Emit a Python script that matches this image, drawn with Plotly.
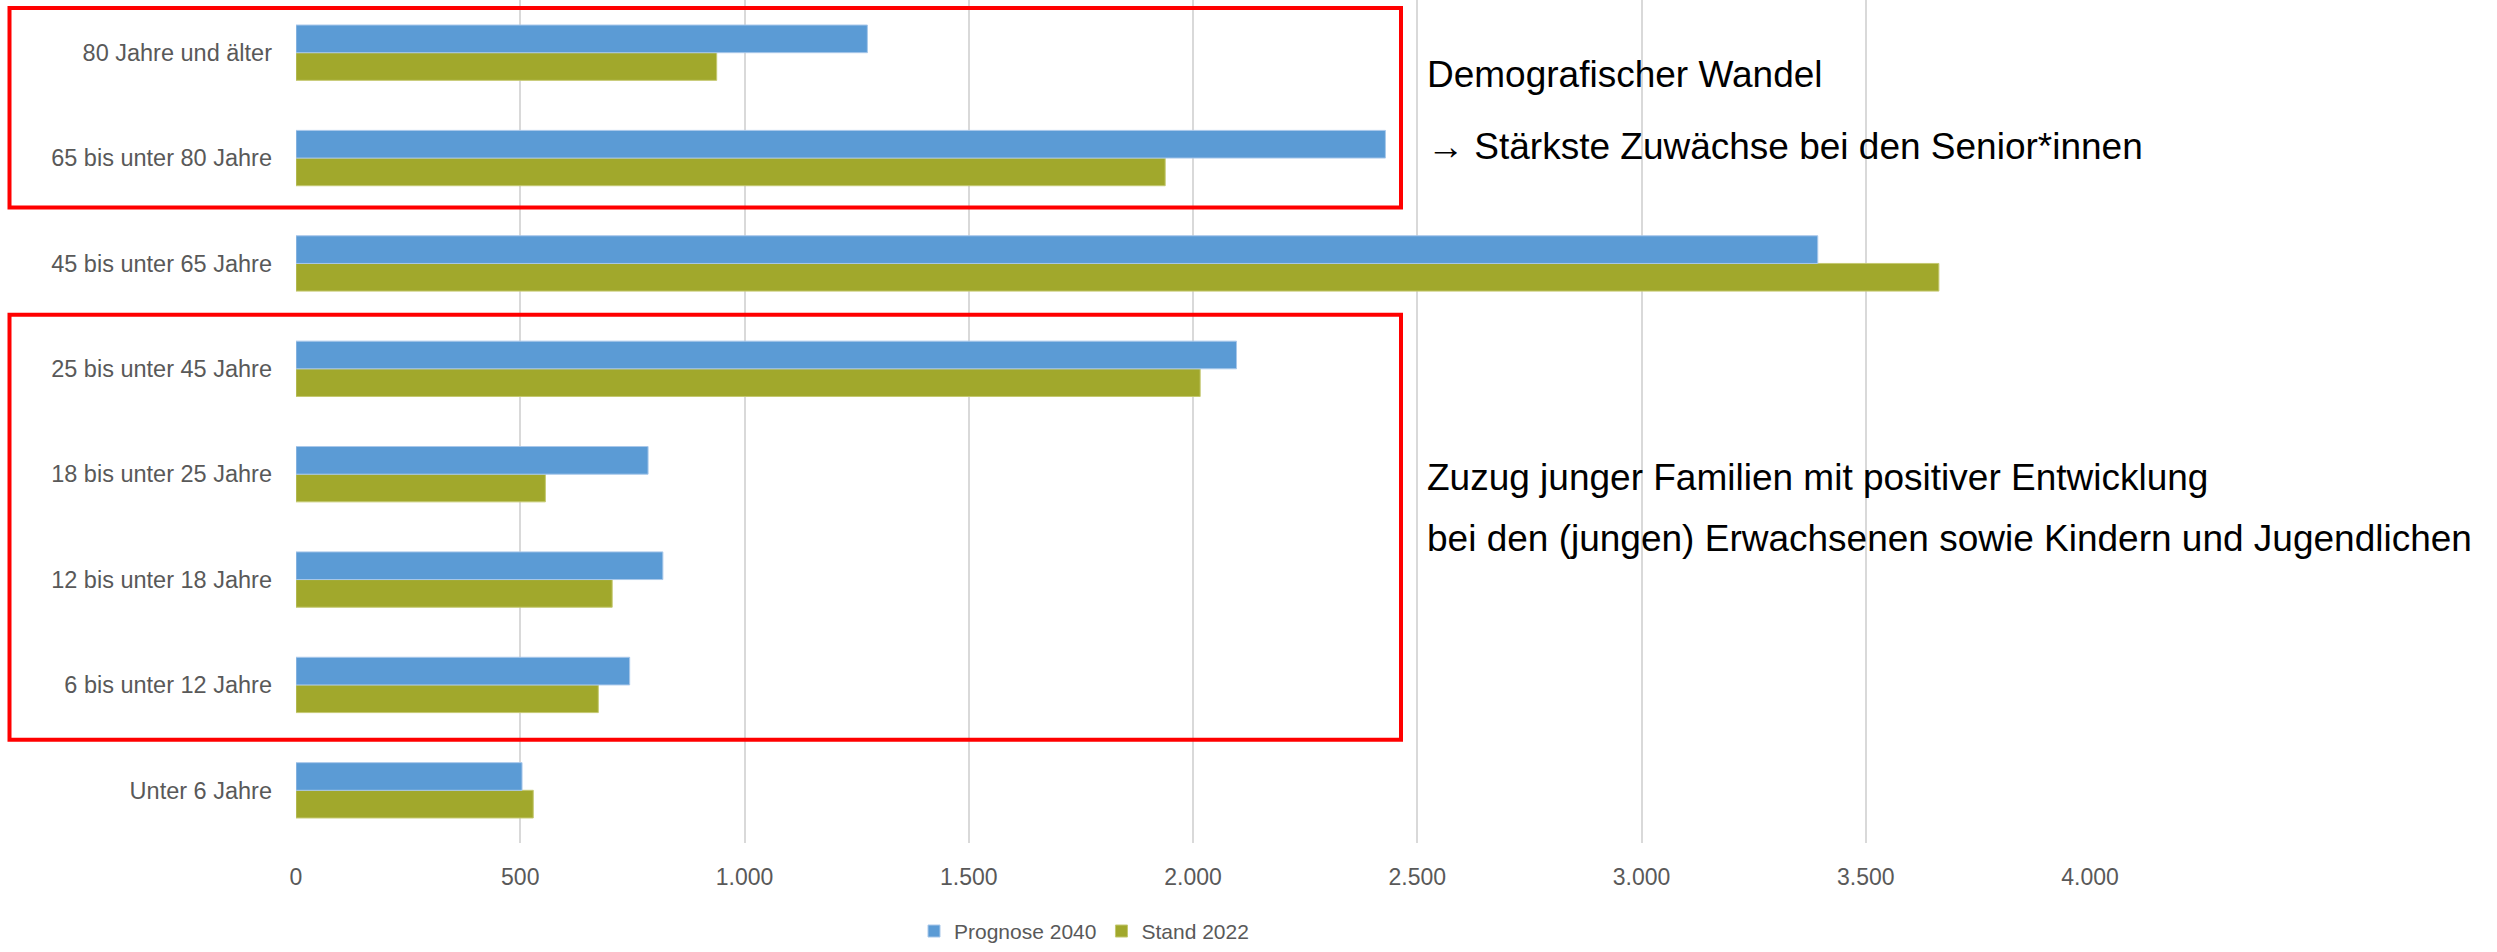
import plotly.graph_objects as go

# Categories from bottom to top (Plotly category axis starts at the bottom)
categories = [
    "Unter 6 Jahre",
    "6 bis unter 12 Jahre",
    "12 bis unter 18 Jahre",
    "18 bis unter 25 Jahre",
    "25 bis unter 45 Jahre",
    "45 bis unter 65 Jahre",
    "65 bis unter 80 Jahre",
    "80 Jahre und älter",
]
prognose_2040 = [504, 744, 818, 785, 2097, 3393, 2429, 1274]
stand_2022 = [529, 674, 705, 556, 2016, 3663, 1938, 938]

x_ticks = [0, 500, 1000, 1500, 2000, 2500, 3000, 3500, 4000]

note_top = ["Demografischer Wandel", "→ Stärkste Zuwächse bei den Senior*innen"]
note_bottom = [
    "Zuzug junger Familien mit positiver Entwicklung",
    "bei den (jungen) Erwachsenen sowie Kindern und Jugendlichen",
]

FONT = "Liberation Sans Narrow, Arial Narrow, Liberation Sans, Arial, sans-serif"
BLUE = "#5B9BD5"
OLIVE = "#A1A82C"

fig = go.Figure()
fig.add_trace(go.Bar(
    y=categories, x=stand_2022, name="Stand 2022", orientation="h",
    marker=dict(color=OLIVE, line=dict(color="#C4C870", width=1)),
    legendrank=2,
))
fig.add_trace(go.Bar(
    y=categories, x=prognose_2040, name="Prognose 2040", orientation="h",
    marker=dict(color=BLUE, line=dict(color="#A9C8EA", width=1)),
    legendrank=1,
))

W, H = 2497, 952
ml, mr, mt, mb = 296, 407, 0, 103
pw = W - ml - mr
ph = H - mt - mb


def px_x(px):
    return (px - ml) / pw


def px_y(py):
    return 1 - (py - mt) / ph


shapes = []
for (x0, y0, x1, y1) in [(9.5, 8, 1401, 209), (9.5, 317, 1401, 745)]:
    shapes.append(dict(
        type="rect", xref="paper", yref="paper",
        x0=px_x(x0), x1=px_x(x1), y0=px_y(y1), y1=px_y(y0),
        line=dict(color="#FF0000", width=4), fillcolor="rgba(0,0,0,0)",
        layer="above",
    ))

annotations = []
for txt, yc in zip(note_top, [75, 148]):
    annotations.append(dict(
        text=txt, xref="paper", yref="paper", x=px_x(1425), y=px_y(yc),
        xanchor="left", yanchor="middle", showarrow=False,
        font=dict(family=FONT, size=37, color="#000000"),
    ))
for txt, yc in zip(note_bottom, [481, 542]):
    annotations.append(dict(
        text=txt, xref="paper", yref="paper", x=px_x(1425), y=px_y(yc),
        xanchor="left", yanchor="middle", showarrow=False,
        font=dict(family=FONT, size=37, color="#000000"),
    ))

fig.update_layout(
    width=W, height=H,
    margin=dict(l=ml, r=mr, t=mt, b=mb, pad=0),
    paper_bgcolor="white", plot_bgcolor="white",
    barmode="group", bargap=0.475, bargroupgap=0,
    separators=",.",
    font=dict(family=FONT, color="#595959", size=23),
    xaxis=dict(
        range=[0, 4000], tickvals=x_ticks, tickformat=",.0f",
        showgrid=True, gridcolor="#D9D9D9", gridwidth=2,
        zeroline=False, showline=False, ticks="",
        tickfont=dict(family=FONT, size=23, color="#595959"),
        ticklabelstandoff=18,
    ),
    yaxis=dict(
        categoryorder="array", categoryarray=categories,
        showgrid=False, zeroline=False, showline=False, ticks="",
        tickfont=dict(family=FONT, size=23.5, color="#595959"),
        ticklabelstandoff=23,
    ),
    legend=dict(
        orientation="h", x=px_x(914), y=px_y(938), xanchor="left", yanchor="middle",
        font=dict(family=FONT, size=21, color="#595959"),
        itemwidth=30, tracegroupgap=0, bgcolor="rgba(0,0,0,0)",
    ),
    shapes=shapes,
    annotations=annotations,
)

fig.write_html(
    "out.html",
    config={"displayModeBar": False},
    post_script="document.body.style.margin='0';",
)
